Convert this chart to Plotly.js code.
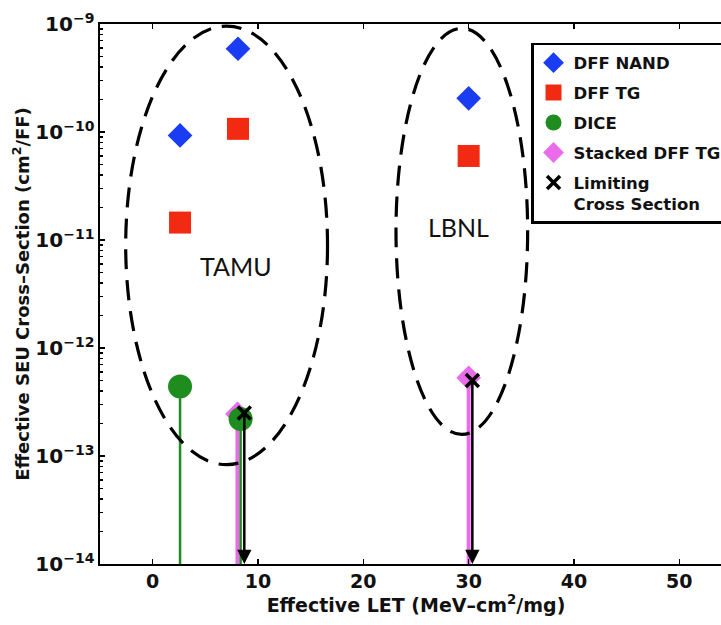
<!DOCTYPE html>
<html>
<head>
<meta charset="utf-8">
<script src="https://cdn.plot.ly/plotly-3.0.1.min.js"></script>
<style>
  html, body { margin: 0; padding: 0; overflow: hidden; background: #fff; }
  #chart { width: 752px; height: 625px; }
</style>
</head>
<body>
<div id="chart"></div>
<script>
// ---- data ----
const nandX = [2.6, 8.1, 30.0];
const nandY = [9.3e-11, 5.9e-10, 2.05e-10];

const tgX = [2.6, 8.1, 30.0];
const tgY = [1.45e-11, 1.07e-10, 6.0e-11];

const diceX = [2.6, 8.35];
const diceY = [4.4e-13, 2.2e-13];

const stackedX = [8.05, 30.0];
const stackedY = [2.45e-13, 5.3e-13];

const limitX = [8.7, 30.35];
const limitY = [2.5e-13, 5.0e-13];

const floorY = 1e-14;

const yTickVals = [1e-14, 1e-13, 1e-12, 1e-11, 1e-10, 1e-9];
const yTickText = ['10<sup>\u221214</sup>', '10<sup>\u221213</sup>', '10<sup>\u221212</sup>',
                   '10<sup>\u221211</sup>', '10<sup>\u221210</sup>', '10<sup>\u22129</sup>'];
const xTickVals = [0, 10, 20, 30, 40, 50];
const xTickText = ['0', '10', '20', '30', '40', '50'];

const groupLabels = ['TAMU', 'LBNL'];
const groupLabelX = [7.9, 29.0];
const groupLabelY = [5.8e-12, 1.32e-11];

// ---- helpers ----
function stems(xs, ys) {
  const sx = [], sy = [];
  xs.forEach((x, i) => { sx.push(x, x, null); sy.push(ys[i], floorY, null); });
  return { x: sx, y: sy };
}

const BLUE = '#1a3cf2', RED = '#f22a12', GREEN = '#1f8c1f', PINK = '#ea6cea';
const FONT = 'DejaVu Sans, Liberation Sans, Arial, sans-serif';

const stackedStems = stems(stackedX, stackedY);
const diceStems = stems(diceX, diceY);

const traces = [
  { x: nandX, y: nandY, name: 'DFF NAND', type: 'scatter', mode: 'markers',
    marker: { symbol: 'diamond', size: 19, color: BLUE }, legendrank: 1, legendgroup: 'a' },
  { x: tgX, y: tgY, name: 'DFF TG', type: 'scatter', mode: 'markers',
    marker: { symbol: 'square', size: 22, color: RED }, legendrank: 2, legendgroup: 'b' },
  { x: stackedStems.x, y: stackedStems.y, type: 'scatter', mode: 'lines', showlegend: false,
    line: { color: PINK, width: 4 }, hoverinfo: 'skip' },
  { x: stackedX, y: stackedY, name: 'Stacked DFF TG', type: 'scatter', mode: 'markers',
    marker: { symbol: 'diamond', size: 19, color: PINK }, legendrank: 4, legendgroup: 'd' },
  { x: diceStems.x, y: diceStems.y, type: 'scatter', mode: 'lines', showlegend: false,
    line: { color: GREEN, width: 2.5 }, hoverinfo: 'skip' },
  { x: diceX, y: diceY, name: 'DICE', type: 'scatter', mode: 'markers',
    marker: { symbol: 'circle', size: 24, color: GREEN }, legendrank: 3, legendgroup: 'c' },
  { x: limitX, y: limitY, name: 'Limiting<br>Cross Section', type: 'scatter', mode: 'markers',
    marker: { symbol: 'x-thin-open', size: 13, color: '#000', line: { color: '#000', width: 3.5 } },
    legendrank: 5, legendgroup: 'e' }
];

const annotations = [];
limitX.forEach((x, i) => {
  annotations.push({
    x: x, y: Math.log10(floorY), xref: 'x', yref: 'y',
    ax: x, ay: Math.log10(limitY[i]), axref: 'x', ayref: 'y',
    text: '', showarrow: true, arrowhead: 2, arrowsize: 1.15, arrowwidth: 2.5,
    arrowcolor: '#000', standoff: 0, startstandoff: 0
  });
});
groupLabels.forEach((t, i) => {
  annotations.push({
    x: groupLabelX[i], y: Math.log10(groupLabelY[i]), xref: 'x', yref: 'y',
    text: t, showarrow: false,
    font: { family: 'Lato, Carlito, sans-serif', size: 25, color: '#111', weight: 'normal' }
  });
});

const dashed = { color: '#000', width: 3.2, dash: '20px,11px' };
const shapes = [
  { type: 'circle', xref: 'x', yref: 'y', x0: -2.56, x1: 16.6,
    y0: Math.pow(10, -13.08), y1: Math.pow(10, -9.02), line: dashed, layer: 'above' },
  { type: 'circle', xref: 'x', yref: 'y', x0: 23.1, x1: 35.6,
    y0: Math.pow(10, -12.8), y1: Math.pow(10, -9.04), line: dashed, layer: 'above' }
];

const minorVals = [];
for (let e = -14; e < -9; e++) for (let m = 2; m <= 9; m++) minorVals.push(m * Math.pow(10, e));

const XTICKFONT = { family: FONT, size: 19, color: '#111', weight: 'bold' };
const YTICKFONT = { family: FONT, size: 20, color: '#111', weight: 'bold' };

const layout = {
  width: 752, height: 625,
  margin: { l: 100, r: 20, t: 24, b: 61 },
  paper_bgcolor: '#fff', plot_bgcolor: '#fff',
  font: { family: FONT, size: 17, color: '#000' },
  showlegend: true,
  legend: {
    x: 0.682, y: 0.965, xanchor: 'left', yanchor: 'top',
    bordercolor: '#000', borderwidth: 2.5, bgcolor: '#fff',
    font: { family: FONT, size: 16.5, color: '#111', weight: 'bold' },
    tracegroupgap: 5.5, valign: 'top', itemsizing: 'trace'
  },
  xaxis: {
    range: [-5, 55], tickmode: 'array', tickvals: xTickVals, ticktext: xTickText,
    ticks: 'inside', ticklen: 5, tickwidth: 1.2, tickcolor: '#000',
    showline: true, linecolor: '#000', linewidth: 1.6, mirror: 'ticks',
    showgrid: false, zeroline: false,
    tickfont: XTICKFONT,
    title: { text: 'Effective LET (MeV\u2013cm<sup>2</sup>/mg)', standoff: 6,
             font: { family: FONT, size: 19, color: '#111', weight: 'bold' } }
  },
  yaxis: {
    type: 'log', range: [-14, -9], tickmode: 'array', tickvals: yTickVals, ticktext: yTickText,
    ticks: 'inside', ticklen: 5, tickwidth: 1.2, tickcolor: '#000',
    minor: { tickmode: 'array', tickvals: minorVals, ticks: 'inside', ticklen: 3, tickcolor: '#000', showgrid: false },
    showline: true, linecolor: '#000', linewidth: 1.6, mirror: 'ticks',
    showgrid: false, zeroline: false,
    tickfont: YTICKFONT,
    title: { text: 'Effective SEU Cross\u2013Section (cm<sup>2</sup>/FF)', standoff: 1,
             font: { family: FONT, size: 18, color: '#111', weight: 'bold' } }
  },
  shapes: shapes,
  annotations: annotations
};

Plotly.newPlot('chart', traces, layout, { displayModeBar: false, staticPlot: true });
</script>
</body>
</html>
